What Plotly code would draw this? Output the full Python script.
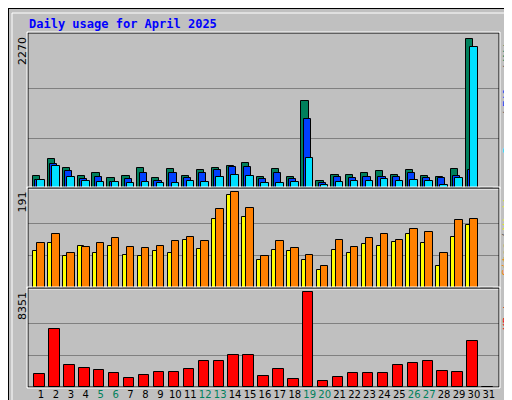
import plotly.graph_objects as go

days = list(range(1, 32))
hits = [180, 437, 298, 190, 221, 159, 180, 298, 159, 282, 190, 267, 298, 329, 375, 175,
        282, 175, 1330, 113, 205, 205, 221, 252, 205, 267, 190, 175, 282, 2270, 0]
files = [128, 360, 252, 144, 175, 98, 144, 221, 113, 236, 159, 221, 267, 313, 313, 144,
         236, 144, 1053, 82, 175, 159, 175, 175, 175, 221, 159, 159, 190, 267, 0]
pages = [128, 329, 175, 113, 98, 98, 82, 98, 82, 82, 113, 98, 175, 205, 190, 82,
         82, 98, 452, 51, 98, 113, 113, 144, 113, 128, 113, 51, 159, 2147, 0]
sites = [73, 90, 63, 84, 69, 84, 65, 63, 73, 69, 96, 78, 138, 185, 142, 55,
         75, 73, 55, 36, 75, 69, 88, 84, 92, 107, 90, 44, 102, 125, 0]
visits = [90, 107, 69, 82, 90, 100, 82, 80, 84, 94, 102, 94, 156, 191, 158, 63,
          94, 80, 65, 44, 96, 82, 100, 107, 96, 117, 111, 69, 136, 138, 0]
kbytes = [1128, 5060, 1951, 1676, 1494, 1219, 762, 1036, 1311, 1311, 1585, 2316, 2316, 2774, 2774, 945,
          1585, 671, 8351, 488, 853, 1219, 1219, 1219, 1951, 2134, 2316, 1402, 1311, 4054, 0]
weekend = [5, 6, 12, 13, 19, 20, 26, 27]

fig = go.Figure()
line = dict(color="black", width=1)

def bar(y, color, offset, width, axis):
    fig.add_trace(go.Bar(x=days, y=y, offset=offset, width=width, marker_color=color,
                         marker_line=line, xaxis="x" + axis, yaxis="y" + axis,
                         hoverinfo="x+y", showlegend=False))

bar(hits, "#00805C", -0.55, 0.48, "")
bar(files, "#0040FF", -0.4, 0.48, "")
bar(pages, "#00E0FF", -0.25, 0.5, "")
bar(sites, "#FFFF00", -0.52, 0.4, "2")
bar(visits, "#FF8000", -0.25, 0.5, "2")
bar(kbytes, "#FF0000", -0.44, 0.69, "3")

xr = [0.13, 31.68]
xd = [20 / 512, 491 / 512]
doms = {"": [0.55, 0.9375], "2": [0.30, 0.55], "3": [0.0525, 0.30]}
maxes = {"": max(hits), "2": max(visits), "3": max(kbytes)}
lay = dict(width=512, height=400, margin=dict(l=0, r=0, t=0, b=0),
           paper_bgcolor="#C0C0C0", plot_bgcolor="#C0C0C0", barmode="overlay",
           bargap=0, font=dict(family="DejaVu Sans Mono", size=11, color="black"))
ticktext = [f"<span style='color:#00805C'>{d}</span>" if d in weekend else str(d) for d in days]
for ax, dom in doms.items():
    m = maxes[ax]
    lay["xaxis" + ax] = dict(range=xr, domain=xd, anchor="y" + ax, showgrid=False, zeroline=False,
                             tickvals=days if ax == "3" else [], ticktext=ticktext, tickangle=0,
                             ticks="", showline=False, automargin=False, fixedrange=True,
                             tickfont=dict(size=10, family="DejaVu Sans"))
    lay["yaxis" + ax] = dict(range=[0, m * 1.04], domain=dom, anchor="x" + ax,
                             tickvals=[m / 3, 2 * m / 3], showticklabels=False,
                             gridcolor="#808080", gridwidth=1, zeroline=False, automargin=False)
fig.update_layout(**lay)

shapes = [dict(type="rect", xref="paper", yref="paper", x0=0, x1=1, y0=0, y1=1,
               line=dict(color="black", width=2)),
          dict(type="rect", xref="paper", yref="paper", x0=4 / 512, x1=505 / 512, y0=6 / 400, y1=395 / 400,
               line=dict(color="white", width=1))]
for ax, dom in doms.items():
    shapes.append(dict(type="rect", xref="paper", yref="paper", x0=xd[0], x1=xd[1], y0=dom[0], y1=dom[1],
                       line=dict(color="black", width=1)))
    shapes.append(dict(type="rect", xref="paper", yref="paper", x0=xd[0] - 1 / 512, x1=xd[1] + 1 / 512,
                       y0=dom[0] - 1 / 400, y1=dom[1] + 1 / 400, line=dict(color="white", width=1)))
fig.update_layout(shapes=shapes)

anns = [dict(text="<b>Daily usage for April 2025</b>", x=19 / 512, y=1 - 16 / 400, xref="paper", yref="paper",
             xanchor="left", yanchor="middle", showarrow=False,
             font=dict(color="#0000FF", size=12, family="DejaVu Sans Mono"))]
maxlabels = {"": "2270", "2": "191", "3": "8351"}
# right-side legends, listed from the top of each panel downwards
legends = {"": [("Hits", "#00805C"), ("/", "#606060"), ("Files", "#0040FF"), ("/", "#606060"), ("Pages", "#00E0FF")],
           "2": [("Visits", "#FFFF00"), ("/", "#606060"), ("Sites", "#FF8000")],
           "3": [("KBytes", "#FF0000")]}
cw = 6.7
for ax, dom in doms.items():
    anns.append(dict(text=maxlabels[ax], x=14 / 512, y=dom[1] - 2 / 400, xref="paper", yref="paper",
                     textangle=-90, xanchor="center", yanchor="top", showarrow=False,
                     font=dict(size=11, family="DejaVu Sans")))
    pos = 2
    for word, col in legends[ax]:
        n = len(word)
        anns.append(dict(text=word, x=499 / 512, y=dom[1] - (pos + n * cw / 2) / 400, xref="paper",
                         yref="paper", textangle=-90, xanchor="center", yanchor="middle",
                         showarrow=False, font=dict(size=11, family="DejaVu Sans Mono", color=col)))
        pos += n * cw + 3
fig.update_layout(annotations=anns)

fig.write_html("out.html")
